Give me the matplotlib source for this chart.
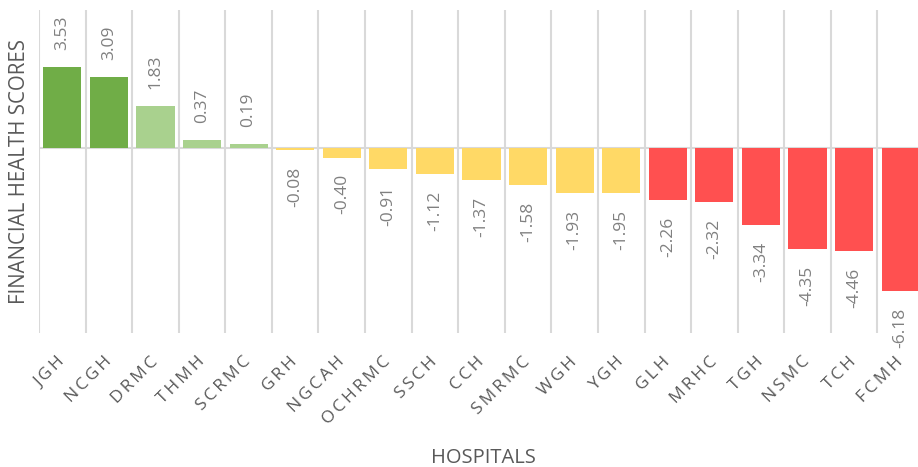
import matplotlib.pyplot as plt
import numpy as np

hospitals = ['JGH', 'NCGH', 'DRMC', 'THMH', 'SCRMC', 'GRH', 'NGCAH', 'OCHRMC', 'SSCH',
             'CCH', 'SMRMC', 'WGH', 'YGH', 'GLH', 'MRHC', 'TGH', 'NSMC', 'TCH', 'FCMH']
scores = [3.53, 3.09, 1.83, 0.37, 0.19, -0.08, -0.40, -0.91, -1.12,
          -1.37, -1.58, -1.93, -1.95, -2.26, -2.32, -3.34, -4.35, -4.46, -6.18]


def bar_color(v):
    if v >= 2.5:
        return '#70AD47'
    if v >= 0:
        return '#A9D18E'
    if v > -2:
        return '#FFD966'
    return '#FF5050'


plt.rcParams['font.family'] = ['Open Sans', 'DejaVu Sans']

fig = plt.figure(figsize=(9.18, 4.67), dpi=100)
ax = fig.add_axes([0.0425, 0.287, 0.964, 0.692])

x = np.arange(len(hospitals))
ax.bar(x, scores, width=0.82, color=[bar_color(v) for v in scores], zorder=3)

# category separators and zero line
for b in np.arange(-0.5, len(hospitals), 1.0):
    ax.axvline(b, color='#D9D9D9', lw=1.5, zorder=1)
ax.axhline(0, color='#D9D9D9', lw=1.5, zorder=2)

for xi, v in zip(x, scores):
    if v >= 0:
        ax.annotate('%.2f' % v, (xi, v), xytext=(0, 12), textcoords='offset points',
                    rotation=90, ha='center', va='bottom', fontsize=12.5, color='#808080')
    else:
        ax.annotate('%.2f' % v, (xi, v), xytext=(0, -12), textcoords='offset points',
                    rotation=90, ha='center', va='top', fontsize=12.5, color='#808080')

ax.set_xlim(-0.5, len(hospitals) - 0.5)
ax.set_ylim(-8, 6)
ax.set_yticks([])
ax.set_xticks(x)
ax.set_xticklabels(['\u2009'.join(h) for h in hospitals], rotation=45, ha='right',
                   va='center', rotation_mode='anchor', fontsize=12.5, color='#595959')
ax.tick_params(axis='x', length=0, pad=19)
for s in ax.spines.values():
    s.set_visible(False)

fig.text(483 / 918, 1 - 458 / 467, 'HOSPITALS', ha='center', va='center',
         fontsize=14.5, color='#595959')
fig.text(20 / 918, 1 - 171 / 467, 'FINANCIAL HEALTH SCORES', ha='center', va='center',
         rotation=90, fontsize=14.8, color='#595959')

fig.savefig('out.png', dpi=100)
